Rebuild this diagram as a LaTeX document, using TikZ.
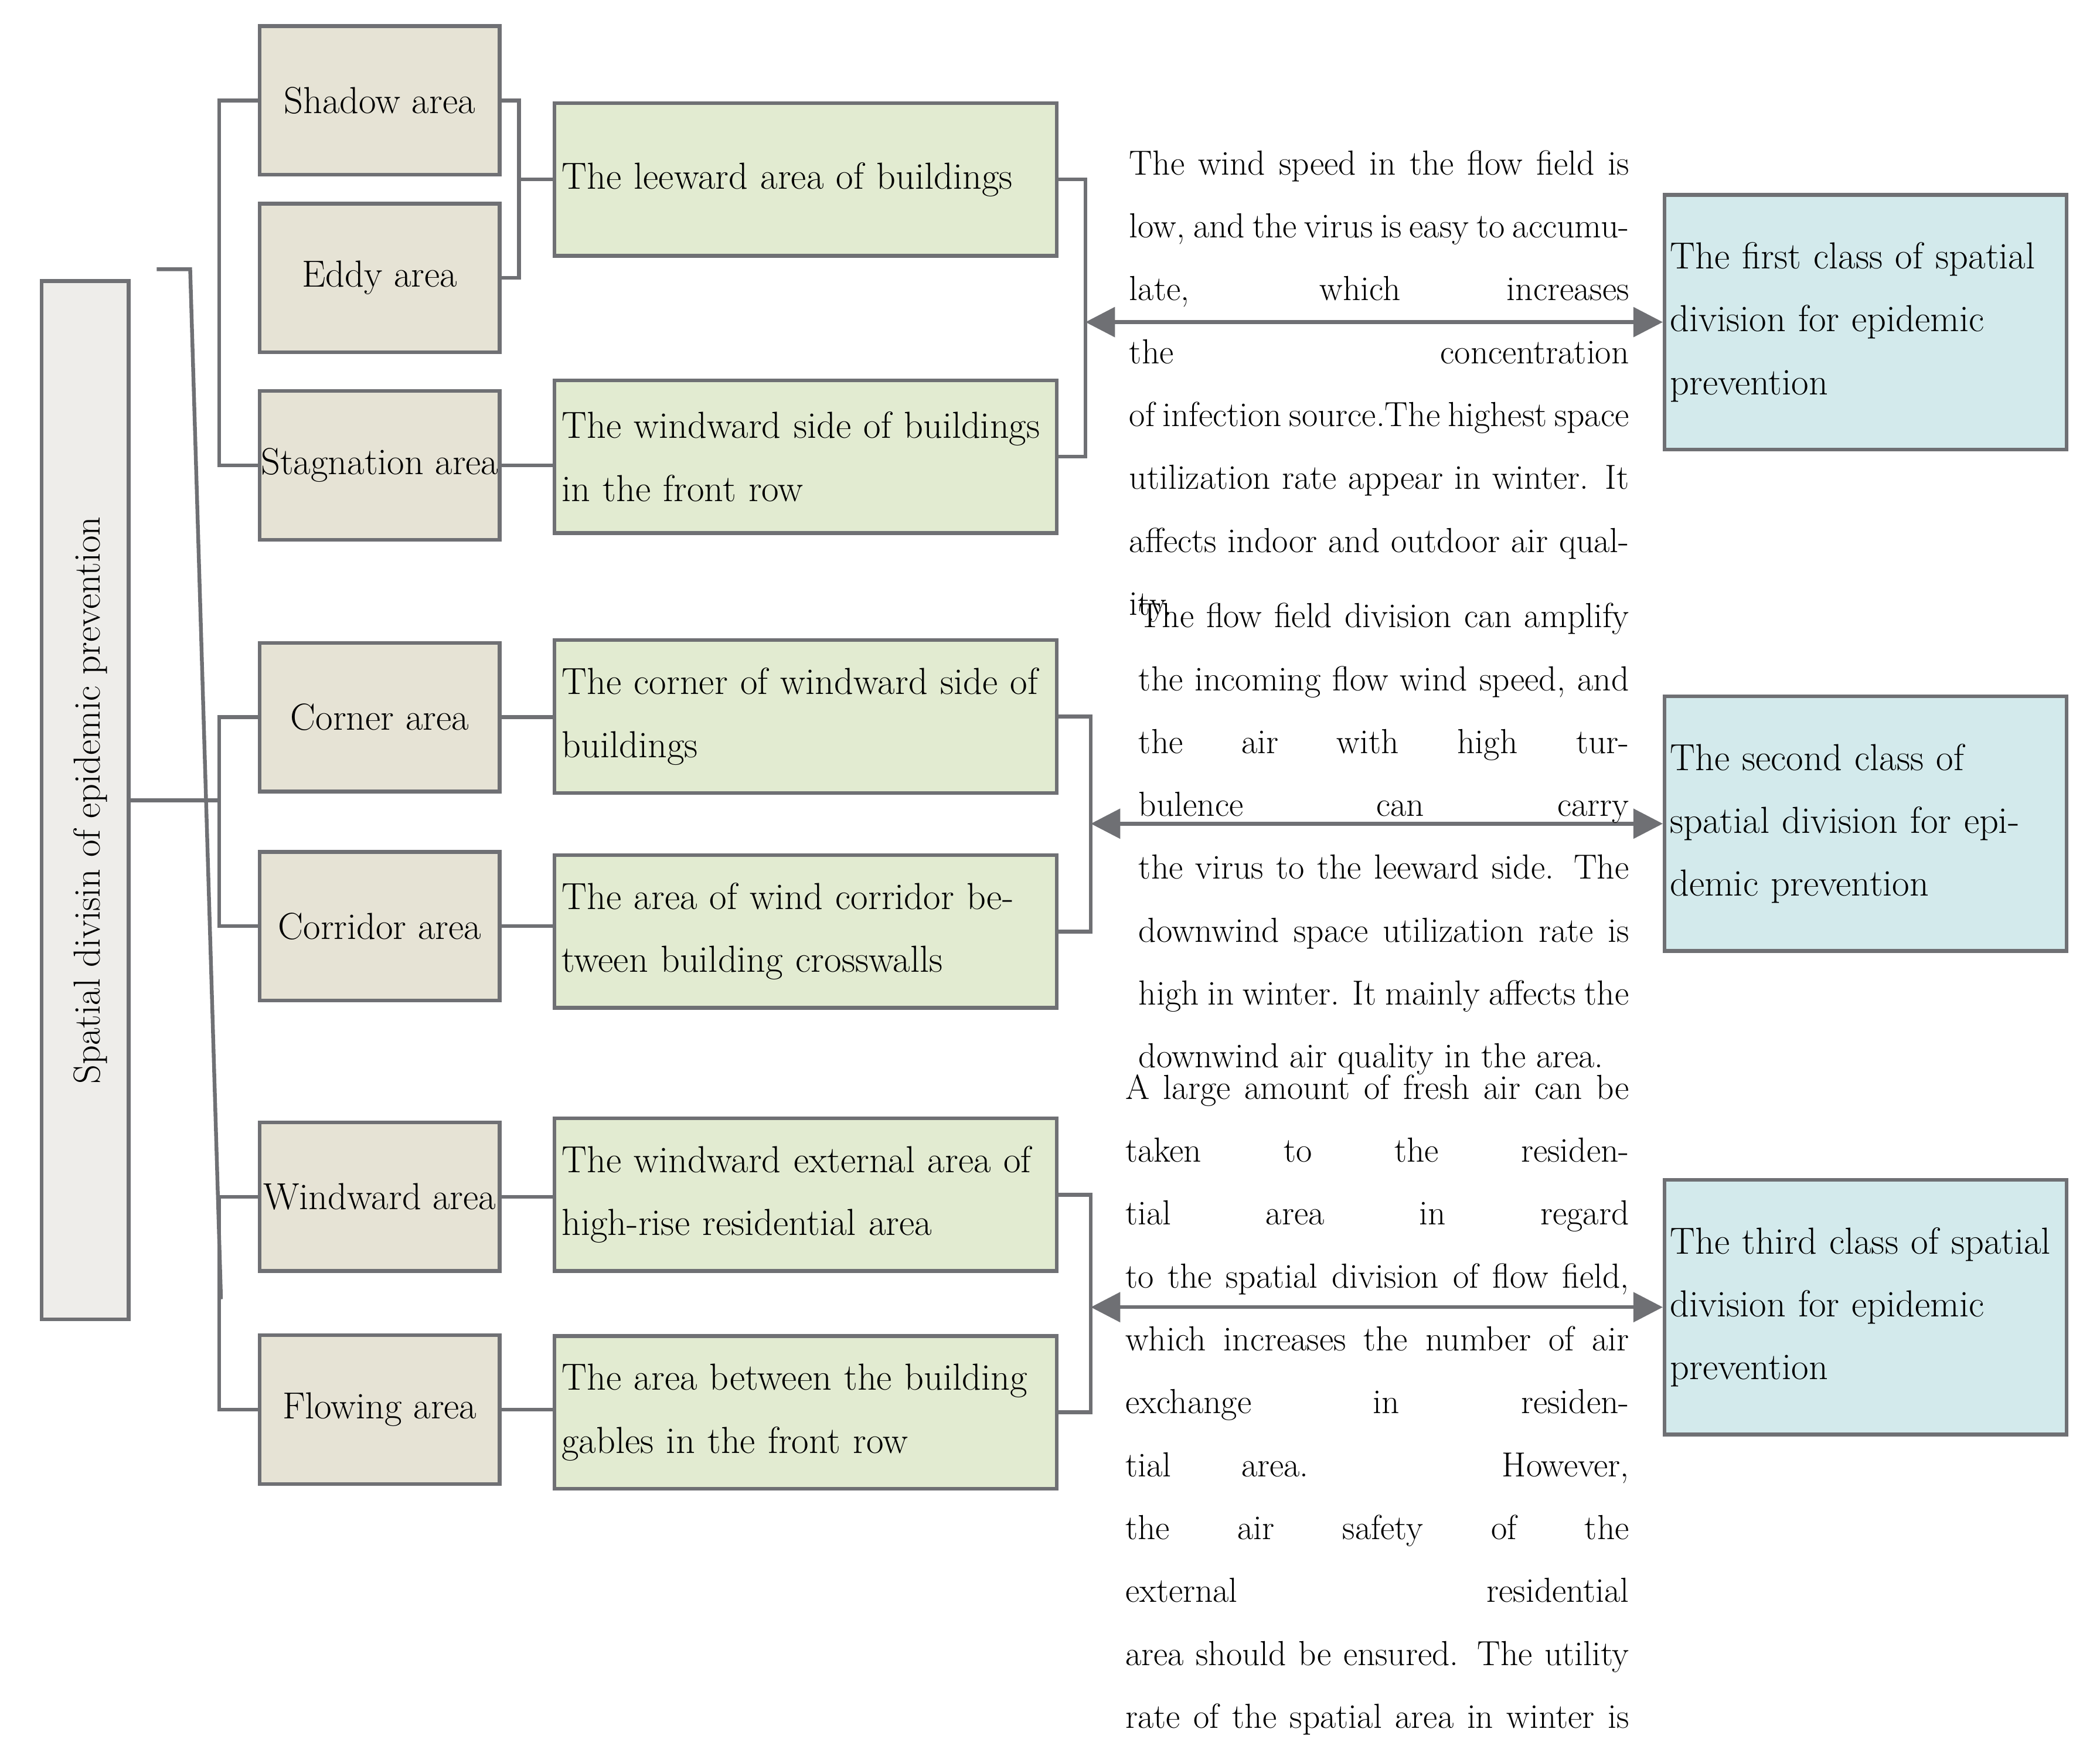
\documentclass[tikz,border=0pt]{standalone}
\usetikzlibrary{arrows.meta}
\definecolor{ln}{HTML}{6F7074}
\definecolor{tan}{HTML}{E6E3D5}
\definecolor{grn}{HTML}{E2EBD1}
\definecolor{blu}{HTML}{D3EAEC}
\definecolor{rt}{HTML}{EEEDEA}
\begin{document}
\begin{tikzpicture}[x=0.025cm,y=-0.025cm,
  font=\fontsize{20}{33.4}\selectfont,
  bx/.style={draw=ln,line width=2pt,inner sep=0pt},
  l1/.style={bx,fill=tan,minimum width=4.475cm,minimum height=2.775cm},
  l2/.style={bx,fill=grn,minimum width=9.375cm,minimum height=2.85cm,text width=9.1cm,align=left},
  rb/.style={bx,fill=blu,minimum width=7.5cm,minimum height=4.75cm,text width=7.3cm,align=left},
  ln/.style={draw=ln,line width=2pt},
  ar/.style={ln,{Triangle[length=0.55cm,width=0.55cm]}-{Triangle[length=0.55cm,width=0.55cm]}},
  para/.style={anchor=north west,inner sep=0pt,text width=9.325cm,align=justify,font=\fontsize{18.5}{33.4}\selectfont}]
\useasboundingbox (0,0) rectangle (1568,1311);
\node[bx,fill=rt,minimum width=1.625cm,minimum height=19.375cm] (root) at (63.5,597.5) {};
\node[rotate=90] at ([xshift=0.1cm]root.center) {Spatial divisin of epidemic prevention};
\node[l1] (shadow) at (283.5,75) {Shadow area};
\node[l1] (eddy) at (283.5,207.5) {Eddy area};
\node[l1] (stag) at (283.5,347.5) {Stagnation area};
\node[l1] (corner) at (283.5,535.5) {Corner area};
\node[l1] (corr) at (283.5,691.5) {Corridor area};
\node[l1] (wind) at (283.5,893.5) {Windward area};
\node[l1] (flow) at (283.5,1052.5) {Flowing area};
\node[l2] (lee) at (601.5,134) {The leeward area of buildings};
\node[l2] (wsd) at (601.5,341) {The windward side of buildings\\in the front row};
\node[l2] (cws) at (601.5,535) {The corner of windward side of\\buildings};
\node[l2] (awc) at (601.5,695.5) {The area of wind corridor be-\\tween building crosswalls};
\node[l2] (wext) at (601.5,892) {The windward external area of\\high-rise residential area};
\node[l2] (gab) at (601.5,1054.5) {The area between the building\\gables in the front row};
\node[rb] (c1) at (1393,240.5) {The first class of spatial\\division for epidemic\\prevention};
\node[rb] (c2) at (1393,615) {The second class of\\spatial division for epi-\\demic prevention};
\node[rb] (c3) at (1393,976) {The third class of spatial\\division for epidemic\\prevention};
% root connectors
\coordinate (rtop) at (117,201);
\coordinate (rk) at (142,201);
\coordinate (rbot) at (165,970);
\draw[ln] (rtop) -- (rk) -- (rbot);
\draw[ln] (root.east) -- (root.east -| rbot);
\draw[ln] (shadow.west) -- ++(-29,0) |- (stag.west);
\draw[ln] (corner.west) -- ++(-29,0) |- (corr.west);
\draw[ln] (wind.west) -- ++(-29,0) |- (flow.west);
% level1 -> level2
\draw[ln] (shadow.east) -- ++(13,0) coordinate (b1) |- (eddy.east);
\draw[ln] (b1 |- lee.west) -- (lee.west);
\draw[ln] (stag.east) -- (stag.east -| wsd.west);
\draw[ln] (corner.east) -- (corner.east -| cws.west);
\draw[ln] (corr.east) -- (corr.east -| awc.west);
\draw[ln] (wind.east) -- (wind.east -| wext.west);
\draw[ln] (flow.east) -- (flow.east -| gab.west);
% right brackets
\draw[ln] (lee.east) -- ++(20,0) coordinate (k1) |- (wsd.east);
\draw[ln] (cws.east) -- ++(24,0) coordinate (k2) |- (awc.east);
\draw[ln] (wext.east) -- ++(24,0) coordinate (k3) |- (gab.east);
\draw[ar] (k1 |- c1.west) -- (c1.west);
\draw[ar] (k2 |- c2.west) -- (c2.west);
\draw[ar] (k3 |- c3.west) -- (c3.west);
% paragraphs
\node[para] (p1) at (843,112) {The wind speed in the flow field is\linebreak low, and the virus is easy to accumu-\linebreak late, which increases the concentration\linebreak of infection source.The highest space\linebreak utilization rate appear in winter. It\linebreak affects indoor and outdoor air quality.};
\node[para,text width=9.15cm] (p2) at (850,450) {The flow field division can amplify\linebreak the incoming flow wind speed, and\linebreak the air with high turbulence can carry\linebreak the virus to the leeward side. The\linebreak downwind space utilization rate is\linebreak high in winter. It mainly affects the\linebreak downwind air quality in the area.};
\node[para,text width=9.4cm] (p3) at (840,802) {A large amount of fresh air can be\linebreak taken to the residential area in regard\linebreak to the spatial division of flow field,\linebreak which increases the number of air\linebreak exchange in residential area. However,\linebreak the air safety of the external residential\linebreak area should be ensured. The utility\linebreak rate of the spatial area in winter is\linebreak rather low, which can possibly exerted\linebreak certain influence to the air quality in\linebreak outdoor area.};
\end{tikzpicture}
\end{document}
